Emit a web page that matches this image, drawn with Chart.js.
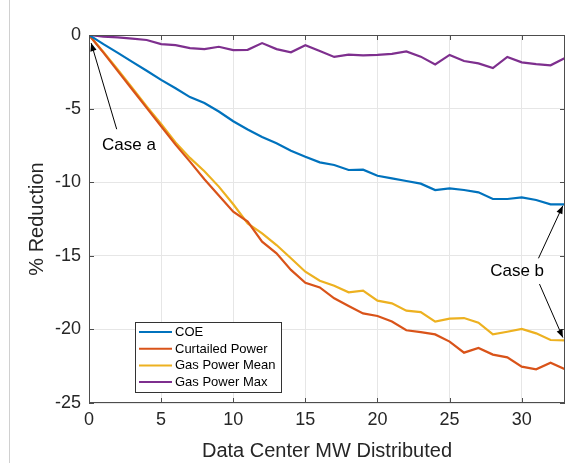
<!DOCTYPE html>
<html>
<head>
<meta charset="utf-8">
<script src="https://cdn.jsdelivr.net/npm/chart.js@4"></script>
<style>
  html, body { margin: 0; padding: 0; background: #fff; }
  #wrap { position: relative; width: 573px; height: 463px; }
  #edge { position: absolute; left: 9px; top: 0; width: 1px; height: 463px; background: #d0d0d0; }
  canvas { position: absolute; left: 0; top: 0; }
</style>
</head>
<body>
<div id="wrap">
  <div id="edge"></div>
  <canvas id="c" width="573" height="463"></canvas>
</div>
<script>
const mw = [0,1,2,3,4,5,6,7,8,9,10,11,12,13,14,15,16,17,18,19,20,21,22,23,24,25,26,27,28,29,30,31,32,33];
const coe = [0,-0.62,-1.21,-1.83,-2.43,-3.05,-3.62,-4.22,-4.62,-5.2,-5.86,-6.42,-6.93,-7.36,-7.86,-8.27,-8.65,-8.83,-9.17,-9.15,-9.56,-9.74,-9.92,-10.1,-10.53,-10.42,-10.53,-10.69,-11.14,-11.14,-11.03,-11.21,-11.5,-11.5];
const curtailed = [0,-1.2,-2.45,-3.7,-4.95,-6.2,-7.45,-8.6,-9.8,-10.9,-12.0,-12.68,-14.04,-14.83,-15.96,-16.83,-17.15,-17.89,-18.41,-18.91,-19.09,-19.47,-20.06,-20.18,-20.34,-20.83,-21.58,-21.26,-21.71,-21.9,-22.53,-22.71,-22.26,-22.71];
const gasMean = [0,-1.15,-2.35,-3.6,-4.85,-6.05,-7.3,-8.35,-9.25,-10.3,-11.5,-12.8,-13.47,-14.27,-15.17,-16.08,-16.69,-17.03,-17.48,-17.37,-18.05,-18.23,-18.73,-18.82,-19.47,-19.27,-19.23,-19.54,-20.34,-20.16,-19.97,-20.27,-20.72,-20.74];
const gasMax = [0,-0.11,-0.16,-0.25,-0.34,-0.62,-0.69,-0.89,-0.96,-0.8,-1.03,-1.01,-0.55,-0.96,-1.17,-0.69,-1.08,-1.49,-1.33,-1.38,-1.35,-1.28,-1.12,-1.47,-2.0,-1.35,-1.77,-1.93,-2.25,-1.49,-1.86,-1.98,-2.06,-1.56];
const seriesNames = ['COE','Curtailed Power','Gas Power Mean','Gas Power Max'];
const seriesColors = ['#0072BD','#D95319','#EDB120','#7E2F8E'];
const xTicks = [0,5,10,15,20,25,30];
const yTicks = [-25,-20,-15,-10,-5,0];

const FONT = '"Liberation Sans", Arial, Helvetica, sans-serif';
const allSeries = [coe, curtailed, gasMean, gasMax];
const datasets = allSeries.map((arr, i) => ({
  label: seriesNames[i],
  data: mw.map((x, j) => ({x: x, y: arr[j]})),
  borderColor: seriesColors[i],
  backgroundColor: seriesColors[i],
  borderWidth: 2.2,
  pointRadius: 0,
  tension: 0,
  fill: false
}));

const annotations = [
  {text: 'Case a', tx: 2.77, ty: -7.47, arrows: [[1.92, -6.4, 0.15, -0.55]]},
  {text: 'Case b', tx: 29.68, ty: -16.03, arrows: [[31.16, -15.17, 32.85, -11.6], [31.23, -16.92, 32.85, -20.55]]}
];

const framePlugin = {
  id: 'frame',
  afterDatasetsDraw(chart) {
    const ctx = chart.ctx, a = chart.chartArea;
    const xs = chart.scales.x, ys = chart.scales.y;
    ctx.save();
    ctx.strokeStyle = '#4d4d4d';
    ctx.lineWidth = 1;
    ctx.strokeRect(a.left + 0.5, a.top + 0.5, a.right - a.left - 1, a.bottom - a.top - 1);
    ctx.beginPath();
    xTicks.forEach(v => {
      const px = Math.round(xs.getPixelForValue(v)) + 0.5;
      ctx.moveTo(px, a.bottom); ctx.lineTo(px, a.bottom - 5);
      ctx.moveTo(px, a.top); ctx.lineTo(px, a.top + 5);
    });
    yTicks.forEach(v => {
      const py = Math.round(ys.getPixelForValue(v)) + 0.5;
      ctx.moveTo(a.left, py); ctx.lineTo(a.left + 5, py);
      ctx.moveTo(a.right, py); ctx.lineTo(a.right - 5, py);
    });
    ctx.stroke();

    ctx.fillStyle = '#000';
    ctx.strokeStyle = '#000';
    ctx.font = '17px ' + FONT;
    ctx.textAlign = 'center';
    ctx.textBaseline = 'middle';
    annotations.forEach(an => {
      ctx.fillText(an.text, xs.getPixelForValue(an.tx), ys.getPixelForValue(an.ty));
      an.arrows.forEach(ar => {
        const x1 = xs.getPixelForValue(ar[0]), y1 = ys.getPixelForValue(ar[1]);
        const x2 = xs.getPixelForValue(ar[2]), y2 = ys.getPixelForValue(ar[3]);
        ctx.lineWidth = 1;
        ctx.beginPath(); ctx.moveTo(x1, y1); ctx.lineTo(x2, y2); ctx.stroke();
        const ang = Math.atan2(y2 - y1, x2 - x1);
        const L = 8, W = 3.2;
        ctx.beginPath();
        ctx.moveTo(x2, y2);
        ctx.lineTo(x2 - L * Math.cos(ang) + W * Math.sin(ang), y2 - L * Math.sin(ang) - W * Math.cos(ang));
        ctx.lineTo(x2 - L * Math.cos(ang) - W * Math.sin(ang), y2 - L * Math.sin(ang) + W * Math.cos(ang));
        ctx.closePath(); ctx.fill();
      });
    });

    const lx = 135, ly = 322, lw = 146, lh = 70;
    ctx.fillStyle = '#fff';
    ctx.fillRect(lx, ly, lw, lh);
    ctx.strokeStyle = '#333';
    ctx.lineWidth = 1;
    ctx.strokeRect(lx + 0.5, ly + 0.5, lw, lh);
    ctx.font = '13px ' + FONT;
    ctx.textAlign = 'left';
    ctx.textBaseline = 'middle';
    chart.data.datasets.forEach((ds, i) => {
      const ry = ly + 10 + i * 16.7;
      ctx.strokeStyle = ds.borderColor;
      ctx.lineWidth = 2;
      ctx.beginPath(); ctx.moveTo(lx + 4, ry); ctx.lineTo(lx + 37, ry); ctx.stroke();
      ctx.fillStyle = '#000';
      ctx.fillText(ds.label, lx + 40, ry + 0.5);
    });
    ctx.restore();
  }
};

new Chart(document.getElementById('c'), {
  type: 'line',
  data: { datasets: datasets },
  options: {
    responsive: false,
    animation: false,
    layout: { padding: { left: 25, right: 8, top: 35, bottom: 0 } },
    plugins: { legend: { display: false }, tooltip: { enabled: false } },
    scales: {
      x: {
        type: 'linear', min: 0, max: 33,
        afterBuildTicks(s) { s.ticks = xTicks.map(v => ({value: v})); },
        afterFit(s) { s.height = 60; },
        ticks: { color: '#262626', font: { family: FONT, size: 18 }, padding: 6, maxRotation: 0 },
        grid: { color: '#e6e6e6', drawTicks: false, lineWidth: 1 },
        border: { display: false },
        title: { display: true, text: 'Data Center MW Distributed', color: '#262626', font: { family: FONT, size: 20 }, padding: { top: 0, bottom: 0 } }
      },
      y: {
        type: 'linear', min: -25, max: 0,
        afterBuildTicks(s) { s.ticks = yTicks.map(v => ({value: v})); },
        afterFit(s) { s.width = 64; },
        ticks: { color: '#262626', font: { family: FONT, size: 18 }, padding: 8 },
        grid: { color: '#e6e6e6', drawTicks: false, lineWidth: 1 },
        border: { display: false },
        title: { display: true, text: '% Reduction', color: '#262626', font: { family: FONT, size: 20 }, padding: { top: 0, bottom: 4 } }
      }
    }
  },
  plugins: [framePlugin]
});
</script>
</body>
</html>
